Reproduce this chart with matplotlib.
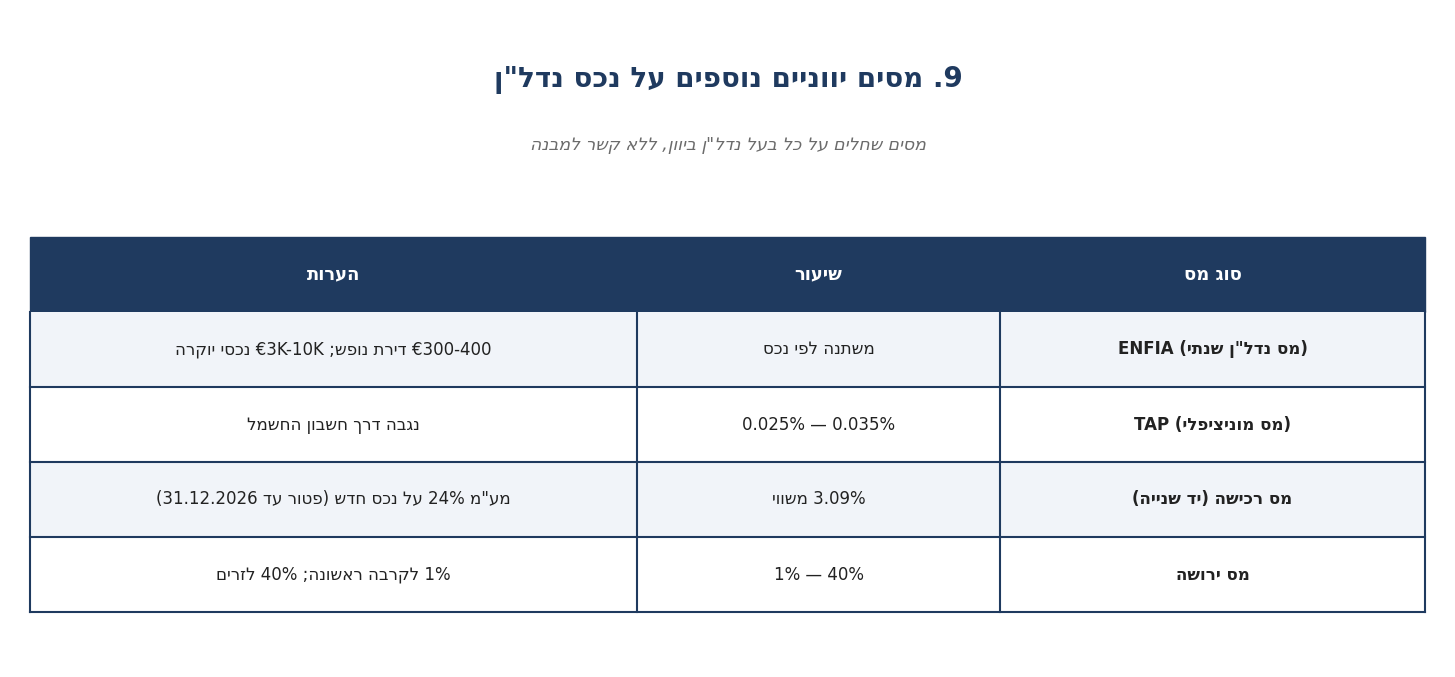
import re
import matplotlib
matplotlib.use("Agg")
import matplotlib.pyplot as plt
from matplotlib.patches import Rectangle

# strings are written in visual (left-to-right) word order; Hebrew runs get flipped
title = 'נדל"ן נכס על נוספים יווניים מסים .9'
subtitle = 'למבנה קשר ללא ,ביוון נדל"ן בעל כל על שחלים מסים'
headers = ["הערות", "שיעור", "מס סוג"]
tax_type = ['ENFIA (שנתי נדל"ן מס)', "TAP (מוניציפלי מס)", "(שנייה יד) רכישה מס", "ירושה מס"]
rates = ["נכס לפי משתנה", "0.025% — 0.035%", "משווי 3.09%", "1% — 40%"]
notes = ["יוקרה נכסי €3K-10K ;נופש דירת €300-400",
         "החשמל חשבון דרך נגבה",
         '(31.12.2026 עד פטור) חדש נכס על 24% מע"מ',
         "לזרים 40% ;ראשונה לקרבה 1%"]


def vis(s):
    return re.sub(r'[\u0590-\u05FF"]+', lambda m: m.group()[::-1], s)


W, H = 1455, 677
NAVY = "#1f3a5f"
fig = plt.figure(figsize=(W / 100, H / 100), dpi=100)
ax = fig.add_axes([0, 0, 1, 1])
ax.set_xlim(0, W)
ax.set_ylim(H, 0)
ax.axis("off")

ax.text(728, 80, vis(title), ha="center", va="center", fontsize=20, fontweight="bold", color=NAVY)
ax.text(728, 145, vis(subtitle), ha="center", va="center", fontsize=12.5, style="italic", color="#6b6b6b")

x0, x1, x2, x3 = 30, 637, 1000, 1425
top, head_h, row_h = 237, 75, 75
cols = [(x0, x1), (x1, x2), (x2, x3)]

ax.add_patch(Rectangle((x0, top), x3 - x0, head_h, color=NAVY, zorder=1))
for (a, b), h in zip(cols, headers):
    ax.text((a + b) / 2, top + head_h / 2, vis(h), ha="center", va="center",
            fontsize=13, fontweight="bold", color="white", zorder=3)

for i in range(len(tax_type)):
    y = top + head_h + i * row_h
    fill = "#f1f4f9" if i % 2 == 0 else "white"
    ax.add_patch(Rectangle((x0, y), x3 - x0, row_h, facecolor=fill, edgecolor="none", zorder=1))
    cells = [notes[i], rates[i], tax_type[i]]
    for j, ((a, b), c) in enumerate(zip(cols, cells)):
        ax.text((a + b) / 2, y + row_h / 2, vis(c), ha="center", va="center",
                fontsize=12, fontweight="bold" if j == 2 else "normal", color="#222222", zorder=3)
    ax.plot([x0, x3], [y + row_h, y + row_h], color=NAVY, lw=1.5, zorder=2)

bottom = top + head_h + len(tax_type) * row_h
for x in (x0, x1, x2, x3):
    ax.plot([x, x], [top + head_h, bottom], color=NAVY, lw=1.5, zorder=2)

fig.savefig("out.png", dpi=100, facecolor="white")
